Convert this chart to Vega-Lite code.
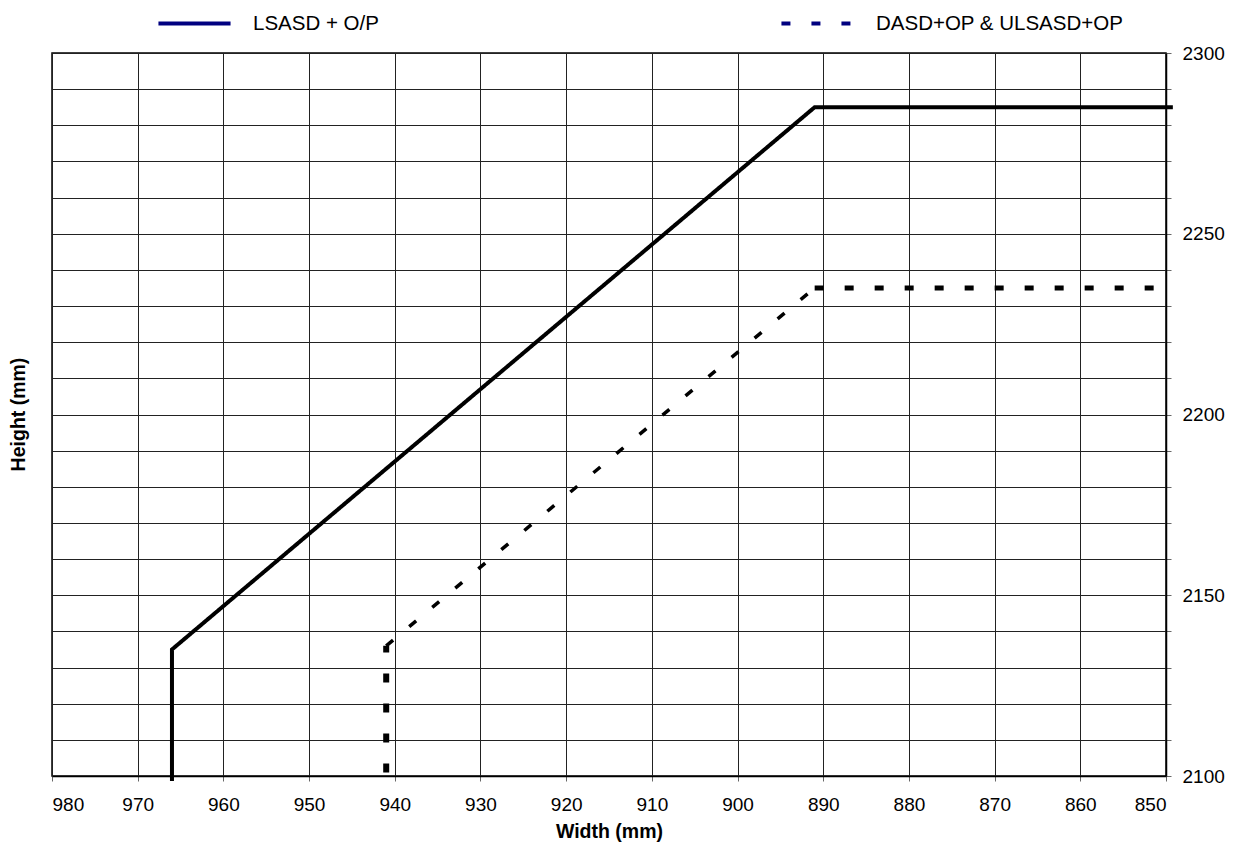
{
  "$schema": "https://vega.github.io/schema/vega-lite/v6.json",
  "autosize": "none",
  "width": 1114,
  "height": 723,
  "padding": {"left": 52, "top": 53, "right": 73, "bottom": 66},
  "background": "white",
  "config": {
    "font": "Liberation Sans",
    "view": {"stroke": "#000", "strokeWidth": 1.5},
    "axis": {
      "labelFont": "Liberation Sans",
      "titleFont": "Liberation Sans",
      "labelFontSize": 19,
      "labelColor": "#000",
      "titleColor": "#000",
      "titleFontSize": 19.5,
      "titleFontWeight": "bold",
      "gridColor": "#222",
      "gridWidth": 1,
      "gridOpacity": 1,
      "domainColor": "#000",
      "domainWidth": 1.5,
      "tickColor": "#666",
      "tickSize": 5
    }
  },
  "data": {
    "values": [
      {"series": "LSASD + O/P", "part": "solid", "i": 1, "width": 966, "height": 2098.6},
      {"series": "LSASD + O/P", "part": "solid", "i": 2, "width": 966, "height": 2135},
      {"series": "LSASD + O/P", "part": "solid", "i": 3, "width": 891, "height": 2285},
      {"series": "LSASD + O/P", "part": "solid", "i": 4, "width": 849.2, "height": 2285},
      {"series": "DASD+OP & ULSASD+OP", "part": "vertical", "i": 1, "width": 941, "height": 2101},
      {"series": "DASD+OP & ULSASD+OP", "part": "vertical", "i": 2, "width": 941, "height": 2136},
      {"series": "DASD+OP & ULSASD+OP", "part": "diagonal", "i": 3, "width": 941, "height": 2136},
      {"series": "DASD+OP & ULSASD+OP", "part": "diagonal", "i": 4, "width": 891, "height": 2235},
      {"series": "DASD+OP & ULSASD+OP", "part": "horizontal", "i": 5, "width": 891, "height": 2235},
      {"series": "DASD+OP & ULSASD+OP", "part": "horizontal", "i": 6, "width": 849.2, "height": 2235}
    ]
  },
  "encoding": {
    "x": {
      "field": "width",
      "type": "quantitative",
      "scale": {"domain": [850, 980], "reverse": true, "nice": false, "zero": false},
      "axis": {
        "title": "Width (mm)",
        "format": "d",
        "values": [850, 860, 870, 880, 890, 900, 910, 920, 930, 940, 950, 960, 970, 980],
        "labelPadding": 14,
        "titlePadding": 8
      }
    },
    "y": {
      "field": "height",
      "type": "quantitative",
      "scale": {"domain": [2100, 2300], "nice": false, "zero": false},
      "axis": {
        "orient": "right",
        "title": "Height (mm)",
        "format": "d",
        "values": [2100, 2110, 2120, 2130, 2140, 2150, 2160, 2170, 2180, 2190, 2200, 2210, 2220, 2230, 2240, 2250, 2260, 2270, 2280, 2290, 2300],
        "labelExpr": "datum.value % 50 === 0 ? datum.label : ''",
        "labelPadding": 11,
        "titleX": -1148,
        "titleY": 361,
        "titleAngle": -90,
        "titleAlign": "center",
        "titleBaseline": "middle"
      }
    },
    "order": {"field": "i"},
    "strokeDash": {
      "field": "series",
      "type": "nominal",
      "scale": {"domain": ["LSASD + O/P", "DASD+OP & ULSASD+OP"], "range": [[1, 0], [9, 21]]},
      "legend": {
        "title": null,
        "orient": "none",
        "legendX": 104,
        "legendY": -68,
        "direction": "horizontal",
        "columns": 2,
        "columnPadding": 394,
        "symbolType": "stroke",
        "symbolSize": 5200,
        "symbolStrokeWidth": 4,
        "symbolStrokeColor": "#000080",
        "labelFontSize": 20.5,
        "labelFont": "Liberation Sans",
        "labelColor": "#000",
        "labelOffset": 20,
        "labelLimit": 500,
        "encode": {
          "symbols": {
            "update": {
              "stroke": {"value": "#000080"},
              "strokeWidth": {"value": 4}
            }
          }
        }
      }
    }
  },
  "layer": [
    {
      "transform": [{"filter": "datum.part === 'solid'"}],
      "mark": {"type": "line", "color": "#000", "clip": false, "strokeCap": "butt", "strokeWidth": 4}
    },
    {
      "transform": [{"filter": "datum.part === 'vertical'"}],
      "mark": {"type": "line", "color": "#000", "clip": false, "strokeCap": "butt", "strokeWidth": 6}
    },
    {
      "transform": [{"filter": "datum.part === 'diagonal'"}],
      "mark": {"type": "line", "color": "#000", "clip": false, "strokeCap": "butt", "strokeWidth": 3.5}
    },
    {
      "transform": [{"filter": "datum.part === 'horizontal'"}],
      "mark": {"type": "line", "color": "#000", "clip": false, "strokeCap": "butt", "strokeWidth": 5}
    }
  ]
}
